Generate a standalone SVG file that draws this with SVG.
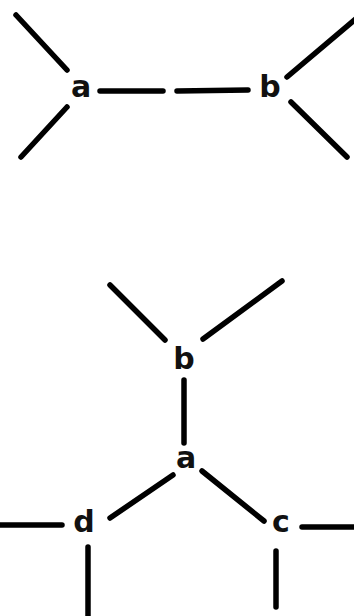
<svg xmlns="http://www.w3.org/2000/svg" width="354" height="616" viewBox="0 0 354 616">
<style>
.lbl{font-family:"DejaVu Sans","Verdana",sans-serif;font-weight:bold;font-size:30px;fill:#111;text-anchor:middle}
.e{stroke:#000;stroke-width:5.5;stroke-linecap:round;fill:none}
</style>
<rect width="354" height="616" fill="#fff"/>
<g id="connectors">
<line class="e" x1="16" y1="15" x2="67" y2="70"/>
<line class="e" x1="67" y1="107" x2="21" y2="157"/>
<line class="e" x1="100" y1="91" x2="163" y2="91"/>
<line class="e" x1="177" y1="91" x2="248" y2="90"/>
<line class="e" x1="287" y1="77" x2="358" y2="17"/>
<line class="e" x1="291" y1="102" x2="347" y2="157"/>
<line class="e" x1="110" y1="285" x2="165" y2="340"/>
<line class="e" x1="282" y1="281" x2="203" y2="339"/>
<line class="e" x1="184" y1="380" x2="184" y2="443"/>
<line class="e" x1="173" y1="475" x2="110" y2="518"/>
<line class="e" x1="202" y1="471" x2="264" y2="521"/>
<line class="e" x1="-5" y1="525" x2="62" y2="525"/>
<line class="e" x1="302" y1="527" x2="360" y2="527"/>
<line class="e" x1="88" y1="547" x2="88" y2="620"/>
<line class="e" x1="276" y1="551" x2="276" y2="607"/>
</g>
<g id="top-a"><text class="lbl" x="81" y="97">a</text></g>
<g id="top-b"><text class="lbl" x="270" y="97">b</text></g>
<g id="bottom-b"><text class="lbl" x="184" y="369">b</text></g>
<g id="bottom-a"><text class="lbl" x="186" y="468">a</text></g>
<g id="bottom-d"><text class="lbl" x="84" y="532">d</text></g>
<g id="bottom-c"><text class="lbl" x="281" y="532">c</text></g>
</svg>
